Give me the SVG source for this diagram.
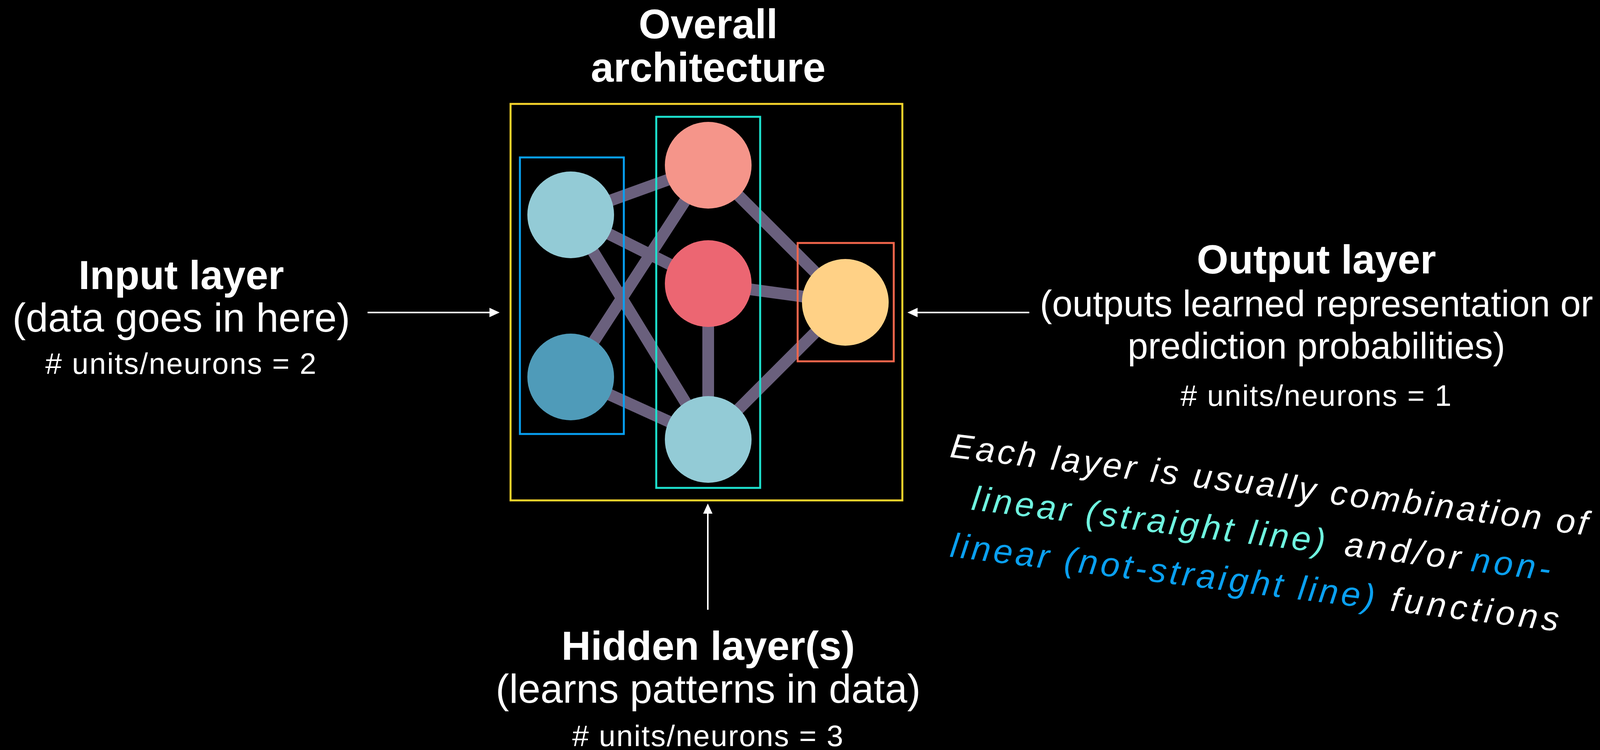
<svg xmlns="http://www.w3.org/2000/svg" width="4342" height="1920" viewBox="0 0 4342 1920">
  <defs>
    <style>
      .bold { font-family: 'Liberation Sans', Arial, sans-serif; font-weight: bold; font-size: 104px; fill: #ffffff; text-anchor: middle; }
      .title { font-size: 105px; }
      .reg { font-family: 'Liberation Sans', Arial, sans-serif; font-size: 103px; fill: #ffffff; text-anchor: middle; }
      .reg-out { font-size: 94px; }
      .units { font-family: 'Liberation Sans', Arial, sans-serif; font-size: 76px; letter-spacing: 2.5px; fill: #ffffff; text-anchor: middle; }
      .hand { font-family: 'Liberation Sans', Arial, sans-serif; font-style: italic; font-size: 88px; }
      .edge { stroke: #6a607d; stroke-width: 30; stroke-linecap: butt; fill: none; }
      .box { fill: none; stroke-width: 5; }
      .arrow { stroke: #ffffff; stroke-width: 4; fill: none; marker-end: url(#ah); }
    </style>
    <marker id="ah" viewBox="0 0 26 24" refX="6" refY="12" markerWidth="26" markerHeight="24" markerUnits="userSpaceOnUse" orient="auto">
      <path d="M0,0 L26,12 L0,24 z" fill="#ffffff"/>
    </marker>
  </defs>
  <rect x="0" y="0" width="4342" height="1920" fill="#000000"/>

  <g id="title">
    <text class="bold title" x="1813" y="98">Overall</text>
    <text class="bold title" x="1813" y="209">architecture</text>
  </g>

  <g id="connectors">
    <line class="edge" x1="1461" y1="550" x2="1813" y2="423"/>
    <line class="edge" x1="1461" y1="550" x2="1813" y2="726"/>
    <line class="edge" x1="1461" y1="550" x2="1813" y2="1125"/>
    <line class="edge" x1="1461" y1="965" x2="1813" y2="423"/>
    <line class="edge" x1="1461" y1="965" x2="1813" y2="1125"/>
    <line class="edge" x1="1813" y1="423" x2="2164" y2="774"/>
    <line class="edge" x1="1813" y1="726" x2="2164" y2="774"/>
    <line class="edge" x1="1813" y1="1125" x2="2164" y2="774"/>
    <line class="edge" x1="1813" y1="726" x2="1813" y2="1125"/>
    <line class="arrow" x1="941" y1="800" x2="1259" y2="800"/>
    <line class="arrow" x1="2635" y1="800" x2="2343" y2="800"/>
    <line class="arrow" x1="1812" y1="1561" x2="1812" y2="1309"/>
  </g>

  <g id="frames">
    <rect id="overall-box" class="box" x="1307" y="266" width="1003" height="1015" stroke="#f7d52c"/>
    <rect id="input-box" class="box" x="1331" y="403" width="266" height="708" stroke="#08a1f3"/>
    <rect id="hidden-box" class="box" x="1680" y="299" width="266" height="950" stroke="#1de3d0"/>
    <rect id="output-box" class="box" x="2042" y="622" width="246" height="303" stroke="#f2664c"/>
  </g>

  <g id="node-in1"><circle cx="1461" cy="550" r="111" fill="#93cbd6"/></g>
  <g id="node-in2"><circle cx="1461" cy="965" r="111" fill="#4f9bb9"/></g>
  <g id="node-h1"><circle cx="1813" cy="423" r="111" fill="#f5958a"/></g>
  <g id="node-h2"><circle cx="1813" cy="726" r="111" fill="#ec6672"/></g>
  <g id="node-h3"><circle cx="1813" cy="1125" r="111" fill="#93cbd6"/></g>
  <g id="node-out"><circle cx="2164" cy="774" r="111" fill="#ffd186"/></g>

  <g id="label-input">
    <text class="bold" x="464" y="740">Input layer</text>
    <text class="reg" x="464" y="849">(data goes in here)</text>
    <text class="units" x="464" y="957"># units/neurons = 2</text>
  </g>

  <g id="label-output">
    <text class="bold" x="3370" y="700">Output layer</text>
    <text class="reg reg-out" x="3370" y="810">(outputs learned representation or</text>
    <text class="reg reg-out" x="3370" y="918">prediction probabilities)</text>
    <text class="units" x="3370" y="1039"># units/neurons = 1</text>
  </g>

  <g id="label-hidden">
    <text class="bold" x="1813" y="1689">Hidden layer(s)</text>
    <text class="reg" x="1813" y="1799">(learns patterns in data)</text>
    <text class="units" x="1813" y="1910"># units/neurons = 3</text>
  </g>

  <g id="note" transform="translate(2430,1170) rotate(7)">
    <text class="hand" x="0" y="0" fill="#ffffff" textLength="1643" lengthAdjust="spacing">Each layer is usually combination of</text>
    <text class="hand" x="71" y="127" fill="#6ff3df" textLength="911" lengthAdjust="spacing">linear (straight line)</text>
    <text class="hand" x="1033" y="127" fill="#ffffff" textLength="298" lengthAdjust="spacing">and/or</text>
    <text class="hand" x="1359" y="127" fill="#0aa0f0" textLength="204" lengthAdjust="spacing">non-</text>
    <text class="hand" x="31" y="253" fill="#0aa0f0" textLength="1094" lengthAdjust="spacing">linear (not-straight line)</text>
    <text class="hand" x="1167" y="253" fill="#ffffff" textLength="433" lengthAdjust="spacing">functions</text>
  </g>
</svg>
